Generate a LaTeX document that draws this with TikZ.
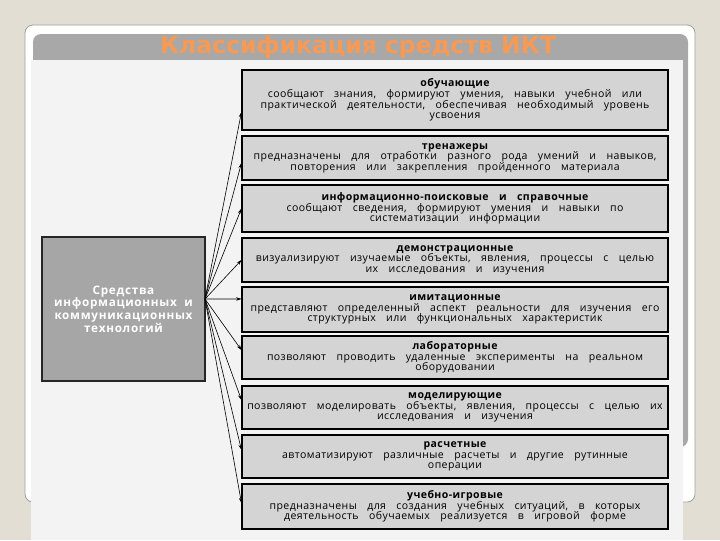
\documentclass[tikz,border=0pt]{standalone}
\usepackage{fontspec}
\usetikzlibrary{arrows.meta}
\newfontfamily\boxfont[LetterSpace=4,WordSpace={3.3}]{Open Sans}
\newfontfamily\mainboxfont[LetterSpace=6,WordSpace={2}]{Open Sans}
\newfontfamily\titlefont{DejaVu Sans}
\definecolor{beige}{RGB}{227,222,211}
\definecolor{cardborder}{RGB}{160,160,160}
\definecolor{headgray}{RGB}{168,168,168}
\definecolor{panelgray}{RGB}{243,243,243}
\definecolor{boxgray}{RGB}{212,212,212}
\definecolor{maingray}{RGB}{166,166,166}
\definecolor{titleorange}{RGB}{247,154,85}
\tikzset{
  catbox/.style={draw=black, line width=0.8pt, fill=boxgray, minimum width=319.5pt,
    inner sep=1pt, align=center, font=\boxfont\fontsize{7.9}{8}\selectfont},
  mainbox/.style={draw=black!85, line width=0.8pt, fill=maingray, minimum width=122.25pt,
    minimum height=108pt, align=center, text=white,
    font=\mainboxfont\bfseries\fontsize{8.8}{9.6}\selectfont},
  conn/.style={line width=0.45pt, -{Stealth[length=4pt,width=2.6pt]}}
}
\begin{document}
\begin{tikzpicture}[x=0.75pt,y=-0.75pt]
\useasboundingbox (0,0) rectangle (720,540);
% background
\fill[beige] (0,0) rectangle (720,540);
\draw[cardborder, fill=white, line width=0.6pt, rounded corners=6pt] (25,25) rectangle (695,502);
\fill[headgray, rounded corners=6pt] (33,34) rectangle (688,447);
\fill[panelgray] (31,60) rectangle (683,540);
\node[font=\titlefont\bfseries\fontsize{17.6}{19}\selectfont, text=titleorange] (title) at (358,47) {Классификация средств ИКТ};
% main box
\node[mainbox] (src) at (123.5,309) {Средства\\информационных и\\коммуникационных\\технологий};
\coordinate (hub) at (205,299);
% category boxes
\node[catbox, minimum height=45pt] (b1) at (455,100) {{\bfseries обучающие}\\сообщают знания, формируют умения, навыки учебной или\\практической деятельности, обеспечивая необходимый уровень\\усвоения};
\node[catbox, minimum height=33pt] (b2) at (455,158) {{\bfseries тренажеры}\\предназначены для отработки разного рода умений и навыков,\\повторения или закрепления пройденного материала};
\node[catbox, minimum height=35.25pt] (b3) at (455,208.5) {{\bfseries информационно-поисковые и справочные}\\сообщают сведения, формируют умения и навыки по\\систематизации информации};
\node[catbox, minimum height=33pt] (b4) at (455,260) {{\bfseries демонстрационные}\\визуализируют изучаемые объекты, явления, процессы с целью\\их исследования и изучения};
\node[catbox, minimum height=33.75pt] (b5) at (455,309.5) {{\bfseries имитационные}\\представляют определенный аспект реальности для изучения его\\структурных или функциональных характеристик};
\node[catbox, minimum height=32.25pt] (b6) at (455,357.5) {{\bfseries лабораторные}\\позволяют проводить удаленные эксперименты на реальном\\оборудовании};
\node[catbox, minimum height=32.25pt] (b7) at (455,407.5) {{\bfseries моделирующие}\\позволяют моделировать объекты, явления, процессы с целью их\\исследования и изучения};
\node[catbox, minimum height=32.25pt] (b8) at (455,456.5) {{\bfseries расчетные}\\автоматизируют различные расчеты и другие рутинные\\операции};
\node[catbox, minimum height=33.75pt] (b9) at (455,506.5) {{\bfseries учебно-игровые}\\предназначены для создания учебных ситуаций, в которых\\деятельность обучаемых реализуется в игровой форме};
% connectors
\draw[conn] (hub) -- ([yshift=-9pt]b1.west);
\draw[conn] (hub) -- ([yshift=-3.75pt]b2.west);
\draw[conn] (hub) -- (b3.west);
\draw[conn] (hub) -- (b4.west);
\draw[conn] (hub) -- ([yshift=7.9pt]b5.west);
\draw[conn] (hub) -- ([yshift=5.6pt]b6.west);
\draw[conn] (hub) -- ([yshift=5.6pt]b7.west);
\draw[conn] (hub) -- ([yshift=4.9pt]b8.west);
\draw[conn] (hub) -- ([yshift=2.6pt]b9.west);
\end{tikzpicture}
\end{document}
